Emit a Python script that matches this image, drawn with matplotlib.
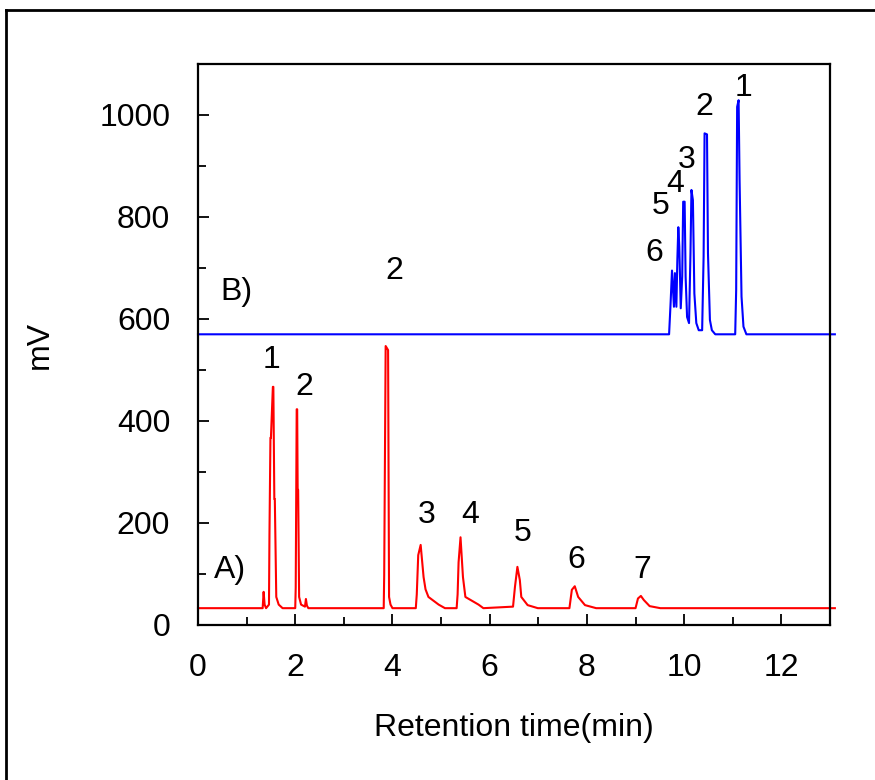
"""Chromatogram overlay: trace A (red) and offset trace B (blue)."""

import matplotlib

matplotlib.use("Agg")
import matplotlib.pyplot as plt
from matplotlib.lines import Line2D
from matplotlib.ticker import MultipleLocator

plt.rcParams["font.family"] = ["Liberation Sans", "DejaVu Sans"]

# Trace A (red): retention time (min) and signal (mV), vertices
time_a = [0.0, 1.33, 1.35, 1.37, 1.40, 1.46, 1.47, 1.49, 1.50, 1.54, 1.55, 1.57, 1.58,
          1.61, 1.66, 1.74, 2.00, 2.01, 2.03, 2.04, 2.05, 2.06, 2.08, 2.12, 2.20, 2.22,
          2.24, 2.27, 3.82, 3.83, 3.86, 3.91, 3.93, 3.96, 4.00, 4.48, 4.50, 4.53, 4.58,
          4.64, 4.68, 4.74, 4.95, 5.08, 5.32, 5.34, 5.36, 5.40, 5.45, 5.50, 5.77, 5.87,
          6.48, 6.52, 6.57, 6.62, 6.65, 6.78, 6.99, 7.64, 7.69, 7.75, 7.82, 7.96, 8.19,
          9.00, 9.05, 9.11, 9.17, 9.29, 9.51, 13.1]
signal_a = [33, 33, 65, 40, 33, 40, 178, 367, 367, 467, 467, 247, 247,
            55, 40, 33, 33, 73, 423, 423, 265, 265, 55, 40, 36, 51,
            38, 33, 33, 98, 547, 539, 55, 40, 33, 33, 60, 137, 157,
            94, 70, 55, 40, 33, 33, 60, 123, 172, 94, 55, 40, 33,
            36, 75, 114, 88, 55, 39, 33, 33, 69, 76, 55, 39, 33,
            33, 52, 57, 49, 37, 33, 33]

# Trace B (blue), offset upwards
time_b = [0.0, 9.69, 9.72, 9.75, 9.79, 9.81, 9.84, 9.86, 9.88, 9.90, 9.93, 9.96, 9.98,
          10.01, 10.03, 10.06, 10.10, 10.13, 10.15, 10.18, 10.21, 10.25, 10.30, 10.37,
          10.40, 10.42, 10.47, 10.49, 10.53, 10.57, 10.64, 11.05, 11.07, 11.09, 11.12,
          11.14, 11.18, 11.22, 11.28, 13.1]
signal_b = [570, 570, 629, 695, 624, 690, 624, 716, 780, 742, 621, 683, 830,
            830, 683, 604, 592, 729, 853, 833, 650, 592, 578, 578,
            722, 964, 962, 729, 598, 578, 570, 570, 657, 1016, 1029,
            873, 644, 585, 570, 570]

# Peak labels: (text, time, mV)
labels_a = [("1", 1.51, 520), ("2", 2.19, 467), ("3", 4.70, 216), ("4", 5.60, 216),
            ("5", 6.67, 180), ("6", 7.79, 127), ("7", 9.14, 108), ("A)", 0.65, 108)]
labels_b = [("1", 11.23, 1052), ("2", 10.42, 1016), ("3", 10.06, 912), ("4", 9.82, 864),
            ("5", 9.52, 822), ("6", 9.38, 730), ("2", 4.03, 694), ("B)", 0.80, 653)]

fig = plt.figure(figsize=(8.75, 7.8), dpi=100)
ax = fig.add_axes([198 / 875, 1 - 625 / 780, 632 / 875, 561 / 780])

# outer frame of the figure (left and top edges only)
fig.add_artist(Line2D([6 / 875, 6 / 875], [0, 1 - 10 / 780], color="black", lw=2))
fig.add_artist(Line2D([6 / 875, 1], [1 - 10 / 780, 1 - 10 / 780], color="black", lw=2))

ax.plot(time_a, signal_a, color="#ff0000", lw=1.5, clip_on=False)
ax.plot(time_b, signal_b, color="#0000ff", lw=1.5, clip_on=False)

for text, t, v in labels_a + labels_b:
    ax.text(t, v, text, fontsize=23, ha="center", va="center")

ax.set_xlim(0, 13)
ax.set_ylim(0, 1100)
ax.xaxis.set_major_locator(MultipleLocator(2))
ax.xaxis.set_minor_locator(MultipleLocator(1))
ax.yaxis.set_major_locator(MultipleLocator(200))
ax.yaxis.set_minor_locator(MultipleLocator(100))
ax.tick_params(which="both", direction="in", width=1.3, labelsize=23, pad=20)
ax.tick_params(which="major", length=8)
ax.tick_params(which="minor", length=6)
for spine in ax.spines.values():
    spine.set_linewidth(1.6)

ax.set_xlabel("Retention time(min)", fontsize=23, labelpad=22)
ax.set_ylabel("mV", fontsize=23, labelpad=32)

fig.savefig("out.png", dpi=100)
plt.close(fig)
